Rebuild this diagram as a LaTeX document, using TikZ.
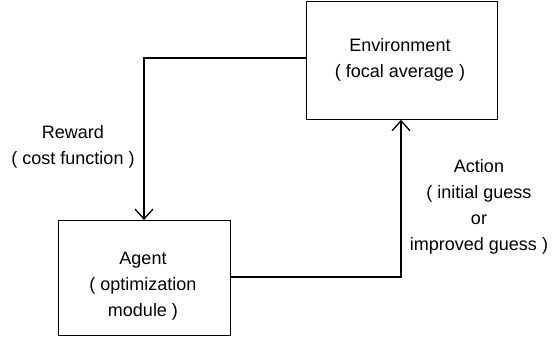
\documentclass[tikz,border=0pt]{standalone}
\usepackage{fontspec}
\setmainfont{Liberation Sans}
\usetikzlibrary{arrows.meta}
\begin{document}
\begin{tikzpicture}[x=1pt,y=-1pt,
  box/.style={draw,line width=1.3pt,inner sep=0pt,anchor=north west},
  lbl/.style={align=center,font=\fontsize{18}{26}\selectfont,inner sep=0pt},
  conn/.style={line width=1.3pt,-{Straight Barb[length=10pt,width=18pt,line width=1.3pt]}}]
\useasboundingbox (0,0) rectangle (555,341);
\node[box,minimum width=191pt,minimum height=118pt] (env) at (305.5,0.5) {};
\node[box,minimum width=172pt,minimum height=115pt] (agent) at (58,220) {};
\node[lbl] at (400,60) {Environment\\( focal average )};
\node[lbl] at (143,286) {Agent\\( optimization\\module )};
\node[lbl] at (73,147) {Reward\\( cost function )};
\node[lbl] at (479,207) {Action\\( initial guess\\or\\improved guess )};
\coordinate (r) at (144,58);
\coordinate (a) at (401,277);
\draw[conn] (env.west |- r) -- (r) -- (r |- agent.north);
\draw[conn] (agent.east |- a) -- (a) -- (a |- env.south);
\end{tikzpicture}
\end{document}
